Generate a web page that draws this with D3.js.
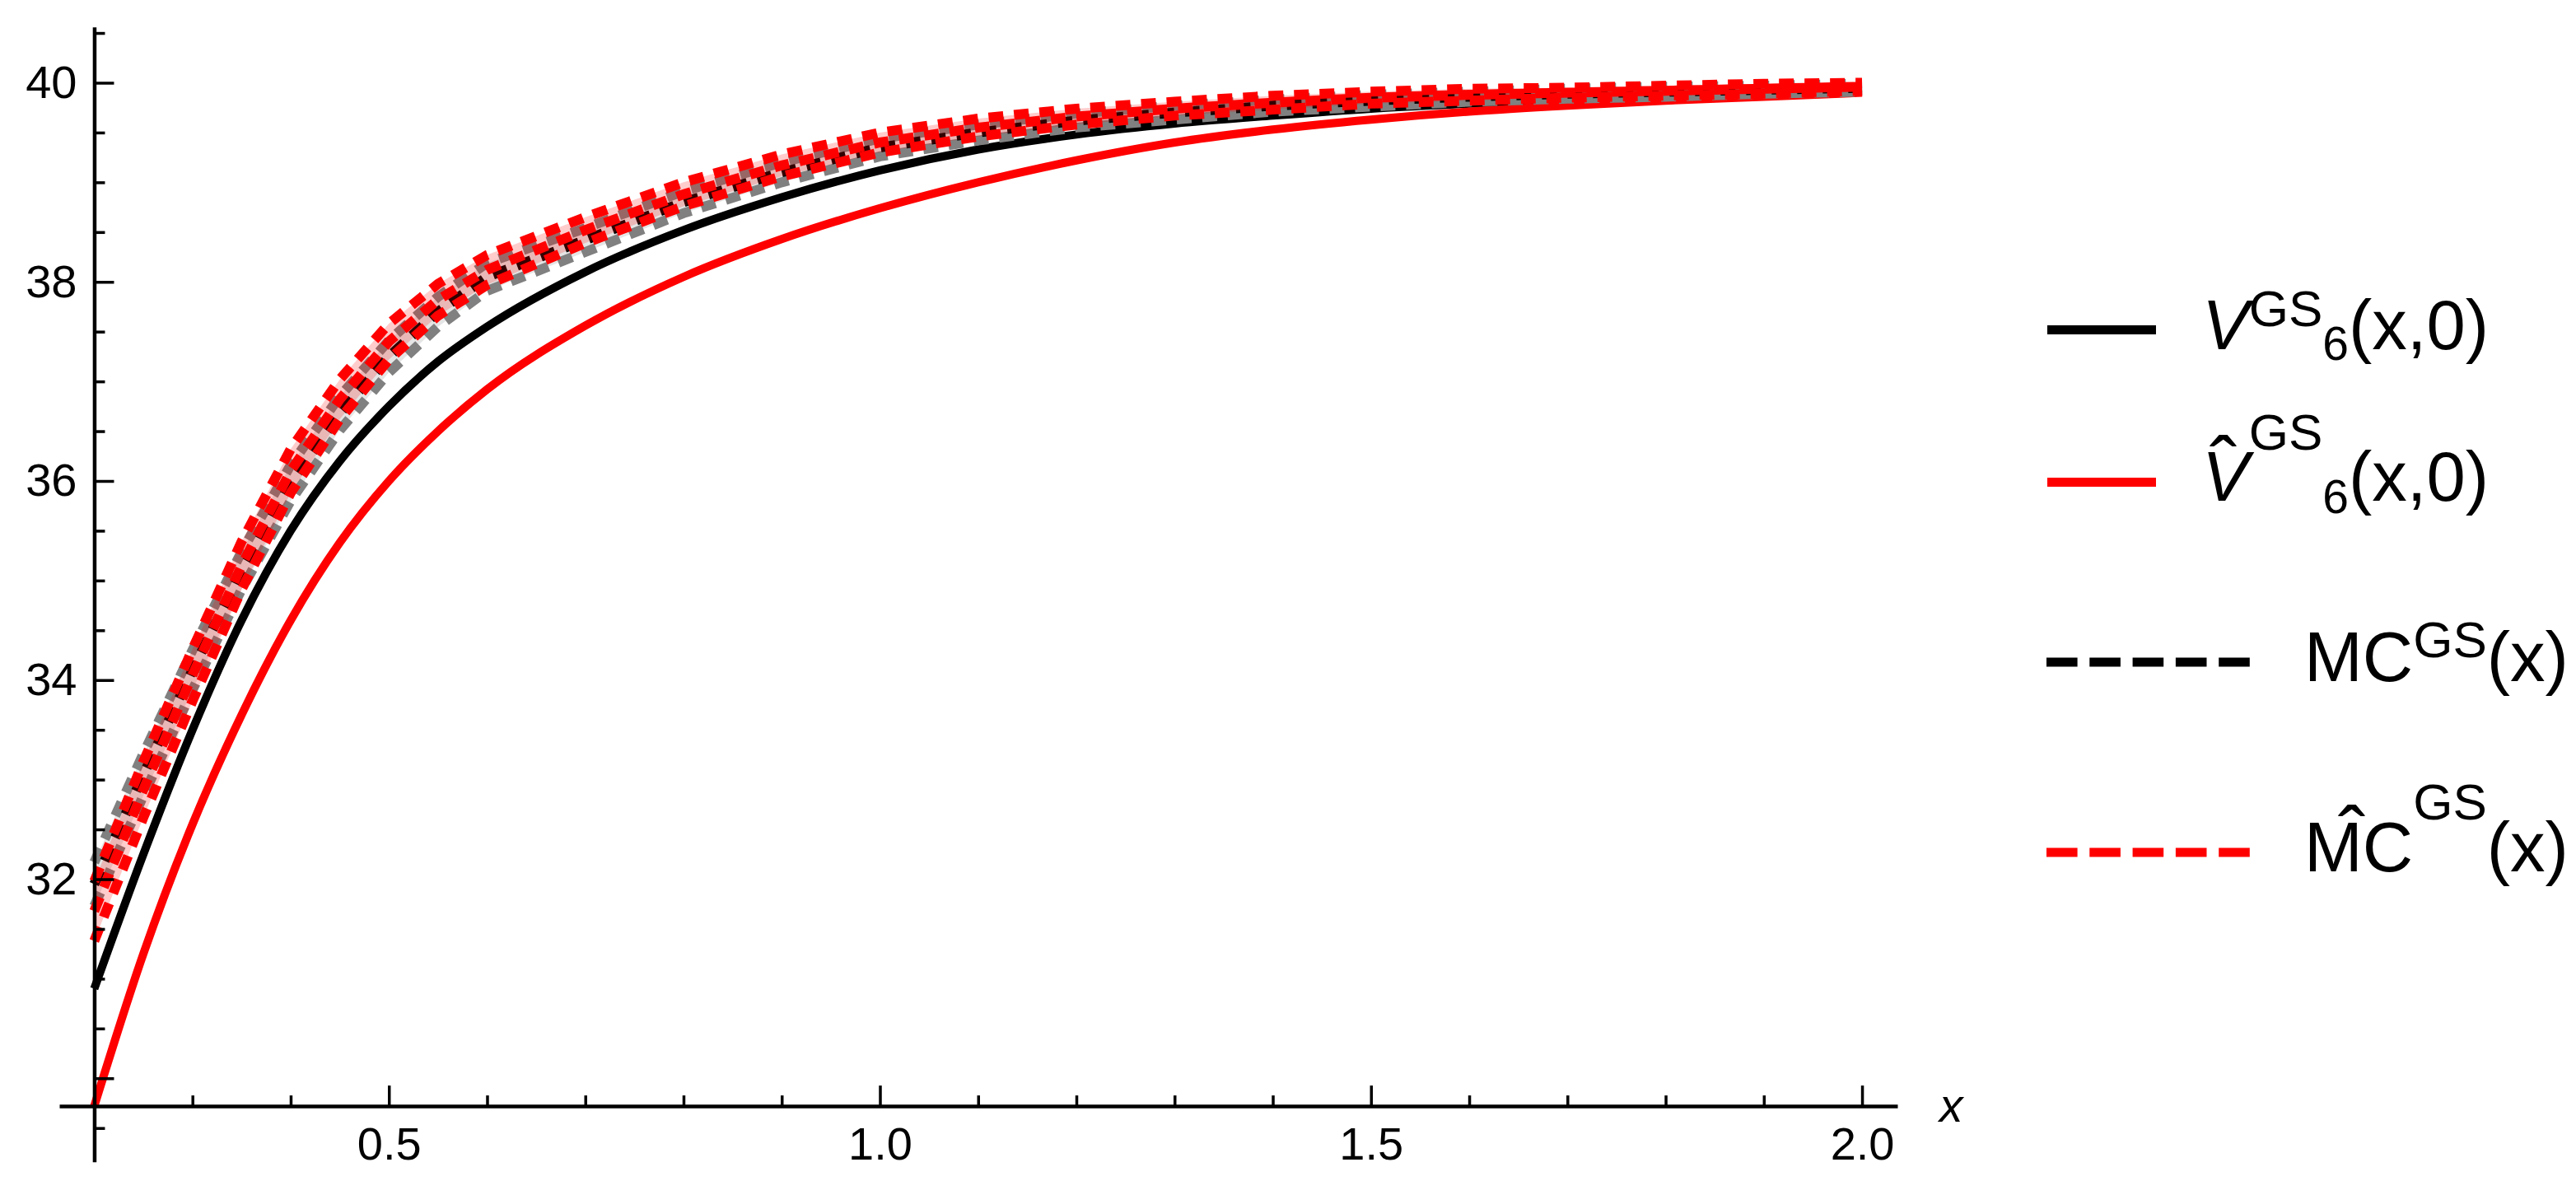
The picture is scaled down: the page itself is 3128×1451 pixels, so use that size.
<!DOCTYPE html>
<html>
<head>
<meta charset="utf-8">
<script src="https://cdnjs.cloudflare.com/ajax/libs/d3/7.8.5/d3.min.js"></script>
<style>
	body { margin: 0; background: #fff; }
	svg { display: block; }
</style>
</head>
<body>
<div id="vis"></div>
<script>
//x grid shared by all the curves
var xVals = [0.2, 0.25, 0.3, 0.35, 0.4, 0.45, 0.5, 0.55, 0.6, 0.7, 0.8, 0.9, 1.0, 1.1, 1.2, 1.3, 1.4, 1.5, 1.6, 1.7, 1.8, 1.9, 2.0];
//V^GS_6(x,0) black solid
var vGS = [30.9, 32.25, 33.5, 34.6, 35.5, 36.2, 36.75, 37.2, 37.55, 38.1, 38.52, 38.85, 39.12, 39.33, 39.48, 39.59, 39.67, 39.74, 39.79, 39.84, 39.87, 39.9, 39.92];
//V-hat^GS_6(x,0) red solid
var vHatGS = [29.72, 31.25, 32.55, 33.65, 34.6, 35.38, 36.0, 36.5, 36.92, 37.56, 38.05, 38.43, 38.74, 39.0, 39.22, 39.4, 39.53, 39.63, 39.71, 39.77, 39.82, 39.86, 39.9];
//MC^GS(x) black dashed with its band
var mc = [31.95, 33.05, 34.1, 35.1, 35.98, 36.68, 37.25, 37.7, 38.05, 38.42, 38.8, 39.1, 39.35, 39.5, 39.62, 39.7, 39.77, 39.82, 39.86, 39.89, 39.91, 39.93, 39.95];
var mcLo = [31.73, 32.84, 33.9, 34.91, 35.8, 36.51, 37.09, 37.55, 37.91, 38.3, 38.69, 39.0, 39.26, 39.42, 39.55, 39.63, 39.71, 39.76, 39.81, 39.84, 39.86, 39.89, 39.91];
var mcHi = [32.17, 33.26, 34.3, 35.29, 36.16, 36.85, 37.41, 37.85, 38.19, 38.54, 38.91, 39.2, 39.44, 39.58, 39.69, 39.77, 39.83, 39.88, 39.91, 39.94, 39.96, 39.97, 39.99];
//MC-hat^GS(x) red dashed with its band
var mcHat = [31.68, 32.9, 34.05, 35.15, 36.1, 36.82, 37.4, 37.82, 38.12, 38.52, 38.88, 39.17, 39.4, 39.55, 39.66, 39.74, 39.8, 39.85, 39.88, 39.9, 39.92, 39.94, 39.96];
var mcHatLo = [31.38, 32.62, 33.79, 34.91, 35.88, 36.62, 37.22, 37.66, 37.97, 38.39, 38.76, 39.06, 39.3, 39.46, 39.58, 39.67, 39.73, 39.79, 39.82, 39.85, 39.87, 39.89, 39.92];
var mcHatHi = [31.98, 33.18, 34.31, 35.39, 36.32, 37.02, 37.58, 37.98, 38.27, 38.65, 39.0, 39.28, 39.5, 39.64, 39.74, 39.81, 39.87, 39.91, 39.94, 39.95, 39.97, 39.99, 40.0];
//ticks
var yMajorTicks = [30, 32, 34, 36, 38, 40];
var yMinorTicks = [29.5, 30.5, 31, 31.5, 32.5, 33, 33.5, 34.5, 35, 35.5, 36.5, 37, 37.5, 38.5, 39, 39.5, 40.5];
var xMajorTicks = [0.5, 1.0, 1.5, 2.0];
var xMinorTicks = [0.3, 0.4, 0.6, 0.7, 0.8, 0.9, 1.1, 1.2, 1.3, 1.4, 1.6, 1.7, 1.8, 1.9];

var width = 3128,
	height = 1451;
var font = "'Liberation Sans', Arial, sans-serif";

var x = d3.scaleLinear()
			.domain([0.1644, 2.036])
			.range([72, 2304]);
var y = d3.scaleLinear()
			.domain([29.16, 40.56])
			.range([1410.8, 32.8]);
var originX = x(0.2),
	originY = y(29.72);

var svg = d3.select("#vis").append("svg")
	.attr("width", width)
	.attr("height", height);

var smooth = d3.line()
	.x(function(d, i){return x(xVals[i]);})
	.y(function(d){return y(d);})
	.curve(d3.curveMonotoneX);
var straight = d3.line()
	.x(function(d, i){return x(xVals[i]);})
	.y(function(d){return y(d);});
var band = d3.area()
	.x(function(d){return x(d.x);})
	.y0(function(d){return y(d.lo);})
	.y1(function(d){return y(d.hi);});

function bandData(lo, hi){
	return xVals.map(function(v, i){return {x: v, lo: lo[i], hi: hi[i]};});
}

//solid curves
svg.append("path")
	.datum(vGS)
	.attr("d", smooth)
	.attr("fill", "none")
	.attr("stroke", "#000")
	.attr("stroke-width", 10);
svg.append("path")
	.datum(vHatGS)
	.attr("d", smooth)
	.attr("fill", "none")
	.attr("stroke", "#ff0000")
	.attr("stroke-width", 10);

//MC curves
var dash = "18 13";
svg.append("path")
	.datum(bandData(mcLo, mcHi))
	.attr("d", band)
	.attr("fill", "#000")
	.attr("fill-opacity", 0.1);
[mcLo, mcHi].forEach(function(s){
	svg.append("path")
		.datum(s)
		.attr("d", straight)
		.attr("fill", "none")
		.attr("stroke", "#808080")
		.attr("stroke-width", 12)
		.attr("stroke-dasharray", dash);
});
svg.append("path")
	.datum(mc)
	.attr("d", straight)
	.attr("fill", "none")
	.attr("stroke", "#000")
	.attr("stroke-width", 12)
	.attr("stroke-dasharray", dash);

svg.append("path")
	.datum(bandData(mcHatLo, mcHatHi))
	.attr("d", band)
	.attr("fill", "#ff0000")
	.attr("fill-opacity", 0.2);
[mcHatLo, mcHatHi, mcHat].forEach(function(s){
	svg.append("path")
		.datum(s)
		.attr("d", straight)
		.attr("fill", "none")
		.attr("stroke", "#ff0000")
		.attr("stroke-width", 12)
		.attr("stroke-dasharray", dash);
});

//y axis
svg.append("g")
	.attr("transform", "translate(" + originX + ",0)")
	.call(d3.axisLeft(y)
		.tickValues(yMajorTicks)
		.tickSizeInner(-24)
		.tickSizeOuter(0)
		.tickPadding(21)
		.tickFormat(function(d){return d === 30 ? "" : d;}));
svg.append("g")
	.attr("transform", "translate(" + originX + ",0)")
	.call(d3.axisLeft(y)
		.tickValues(yMinorTicks)
		.tickSizeInner(-13)
		.tickSizeOuter(0)
		.tickFormat(""))
	.select(".domain").remove();
//x axis
svg.append("g")
	.attr("transform", "translate(0," + originY + ")")
	.call(d3.axisBottom(x)
		.tickValues(xMajorTicks)
		.tickSizeInner(-25)
		.tickSizeOuter(0)
		.tickPadding(25)
		.tickFormat(d3.format(".1f")));
svg.append("g")
	.attr("transform", "translate(0," + originY + ")")
	.call(d3.axisBottom(x)
		.tickValues(xMinorTicks)
		.tickSizeInner(-13)
		.tickSizeOuter(0)
		.tickFormat(""))
	.select(".domain").remove();

svg.selectAll(".domain")
	.attr("stroke-width", 4.5);
svg.selectAll(".tick line")
	.attr("stroke-width", 3.5);
svg.selectAll(".tick text")
	.attr("font-family", font)
	.attr("font-size", 56);

svg.append("text")
	.attr("x", 2355)
	.attr("y", 1362)
	.attr("font-family", font)
	.attr("font-size", 57)
	.style("font-style", "italic")
	.text("x");

//legend
var legend = svg.append("g")
	.attr("font-family", font)
	.attr("font-size", 85);
legend.append("line")
	.attr("x1", 2486).attr("x2", 2618)
	.attr("y1", 400.5).attr("y2", 400.5)
	.attr("stroke", "#000")
	.attr("stroke-width", 11);
legend.append("line")
	.attr("x1", 2486).attr("x2", 2618)
	.attr("y1", 585.5).attr("y2", 585.5)
	.attr("stroke", "#ff0000")
	.attr("stroke-width", 11);
legend.append("line")
	.attr("x1", 2485).attr("x2", 2732)
	.attr("y1", 804).attr("y2", 804)
	.attr("stroke", "#000")
	.attr("stroke-width", 11)
	.attr("stroke-dasharray", "37.6 14.7");
legend.append("line")
	.attr("x1", 2485).attr("x2", 2732)
	.attr("y1", 1035).attr("y2", 1035)
	.attr("stroke", "#ff0000")
	.attr("stroke-width", 11)
	.attr("stroke-dasharray", "37.6 14.7");

var t1 = legend.append("text").attr("x", 2674).attr("y", 424);
t1.append("tspan").style("font-style", "italic").text("V");
t1.append("tspan").attr("font-size", 62).attr("dy", -28).text("GS");
t1.append("tspan").attr("font-size", 57).attr("dy", 41).text("6");
t1.append("tspan").attr("dy", -13).text("(x,0)");

var t2 = legend.append("text").attr("x", 2674).attr("y", 608);
t2.append("tspan").style("font-style", "italic").text("V");
t2.append("tspan").attr("font-size", 62).attr("dy", -62).text("GS");
t2.append("tspan").attr("font-size", 57).attr("dy", 77).text("6");
t2.append("tspan").attr("dy", -15).text("(x,0)");
legend.append("text")
	.attr("x", 2700).attr("y", 601)
	.attr("font-size", 100)
	.attr("text-anchor", "middle")
	.text("\u02C6");

var t3 = legend.append("text").attr("x", 2798).attr("y", 827);
t3.append("tspan").text("MC");
t3.append("tspan").attr("font-size", 62).attr("dy", -29).text("GS");
t3.append("tspan").attr("dy", 29).text("(x)");

var t4 = legend.append("text").attr("x", 2798).attr("y", 1058);
t4.append("tspan").text("MC");
t4.append("tspan").attr("font-size", 62).attr("dy", -63).text("GS");
t4.append("tspan").attr("dy", 63).text("(x)");
legend.append("text")
	.attr("x", 2856).attr("y", 1050)
	.attr("font-size", 100)
	.attr("text-anchor", "middle")
	.text("\u02C6");
</script>
</body>
</html>
